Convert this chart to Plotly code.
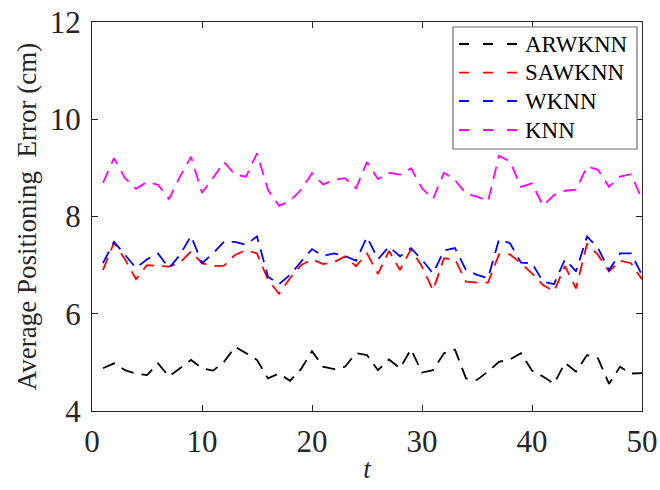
import plotly.graph_objects as go

# Positioning error per test round t for each method
t = list(range(1, 51))

arwknn = [4.88, 4.98, 4.84, 4.77, 4.74, 4.98, 4.71, 4.88, 5.05, 4.88,
          4.83, 5.01, 5.32, 5.19, 5.05, 4.67, 4.77, 4.62, 4.86, 5.23,
          4.91, 4.86, 4.91, 5.19, 5.15, 4.84, 5.06, 4.88, 5.27, 4.79,
          4.84, 5.19, 5.26, 4.67, 4.64, 4.81, 5.01, 5.06, 5.19, 4.83,
          4.71, 4.56, 4.99, 4.81, 5.15, 5.08, 4.56, 4.91, 4.77, 4.78]

sawknn = [6.90, 7.46, 7.12, 6.71, 7.00, 6.98, 6.97, 7.05, 7.28, 7.04,
          6.98, 6.99, 7.21, 7.31, 7.24, 6.70, 6.41, 6.73, 7.00, 7.12,
          7.02, 7.06, 7.18, 6.98, 7.24, 6.82, 7.29, 6.90, 7.33, 6.97,
          6.48, 7.14, 7.12, 6.66, 6.64, 6.64, 7.22, 7.22, 7.04, 6.83,
          6.59, 6.46, 6.98, 6.52, 7.44, 7.21, 6.87, 7.09, 7.04, 6.71]

wknn = [7.04, 7.48, 7.21, 6.94, 7.12, 7.24, 6.94, 7.21, 7.60, 7.04,
        7.24, 7.48, 7.48, 7.42, 7.59, 6.76, 6.61, 6.80, 7.07, 7.33,
        7.19, 7.24, 7.19, 7.09, 7.58, 7.12, 7.38, 7.18, 7.35, 7.11,
        6.83, 7.30, 7.35, 6.90, 6.80, 6.73, 7.53, 7.45, 7.05, 7.04,
        6.66, 6.61, 7.12, 6.87, 7.59, 7.35, 6.90, 7.24, 7.24, 6.80]

knn = [8.69, 9.20, 8.79, 8.57, 8.71, 8.65, 8.36, 8.82, 9.23, 8.49,
       8.79, 9.12, 8.86, 8.82, 9.30, 8.55, 8.22, 8.32, 8.55, 8.89,
       8.66, 8.75, 8.79, 8.58, 9.12, 8.77, 8.90, 8.86, 8.99, 8.58,
       8.36, 8.90, 8.75, 8.47, 8.41, 8.31, 9.25, 9.13, 8.61, 8.68,
       8.22, 8.44, 8.53, 8.55, 9.03, 8.96, 8.61, 8.82, 8.87, 8.36]

names = ["ARWKNN", "SAWKNN", "WKNN", "KNN"]
series = [arwknn, sawknn, wknn, knn]
colors = ["#000000", "#ff0000", "#0000ff", "#ff00ff"]

x_ticks = [0, 10, 20, 30, 40, 50]
y_ticks = [4, 6, 8, 10, 12]

FONT = "Liberation Serif"
W, H = 660, 490
ML, MR, MT, MB = 92, 18, 22, 79
PW, PH = W - ML - MR, H - MT - MB

fig = go.Figure()
for name, ys, col in zip(names, series, colors):
    fig.add_trace(go.Scatter(
        x=t, y=ys, name=name, mode="lines", showlegend=False,
        line=dict(color=col, width=1.8, dash="13px,8px"),
    ))


def px(xp):
    return (xp - ML) / PW


def py(yp):
    return (H - MB - yp) / PH


# Boxed legend in the upper-right corner
shapes = [dict(type="rect", xref="paper", yref="paper",
               x0=px(453), x1=px(637), y0=py(149), y1=py(27),
               line=dict(color="#6e6e6e", width=1.2), fillcolor="white",
               layer="above")]
annotations = []
row_y = [44, 72.7, 101, 130]
for name, col, ry in zip(names, colors, row_y):
    shapes.append(dict(type="line", xref="paper", yref="paper",
                       x0=px(459), x1=px(519), y0=py(ry), y1=py(ry),
                       line=dict(color=col, width=1.8, dash="10px,14px"),
                       layer="above"))
    annotations.append(dict(xref="paper", yref="paper", x=px(523), y=py(ry),
                            text=name, showarrow=False, xanchor="left",
                            yanchor="middle",
                            font=dict(family=FONT, size=23, color="#000000")))

axis_common = dict(
    automargin=False,
    showline=True, linecolor="#262626", linewidth=1.2, mirror="ticks",
    ticks="inside", ticklen=6, tickwidth=1.1, tickcolor="#262626",
    showgrid=False, zeroline=False,
    tickfont=dict(family=FONT, size=31, color="#262626"),
)

fig.update_layout(
    width=W, height=H,
    margin=dict(l=ML, r=MR, t=MT, b=MB),
    paper_bgcolor="white", plot_bgcolor="white",
    shapes=shapes, annotations=annotations,
    xaxis=dict(range=[0, 50], tickvals=x_ticks, ticklabelstandoff=3,
               title=dict(text="<i>t</i>", standoff=0,
                          font=dict(family=FONT, size=27, color="#262626")),
               **axis_common),
    yaxis=dict(range=[4, 12], tickvals=y_ticks, ticklabelstandoff=4,
               title=dict(text="Average Positioning  Error (cm)", standoff=5,
                          font=dict(family=FONT, size=27, color="#262626")),
               **axis_common),
)

fig.write_html("out.html")
